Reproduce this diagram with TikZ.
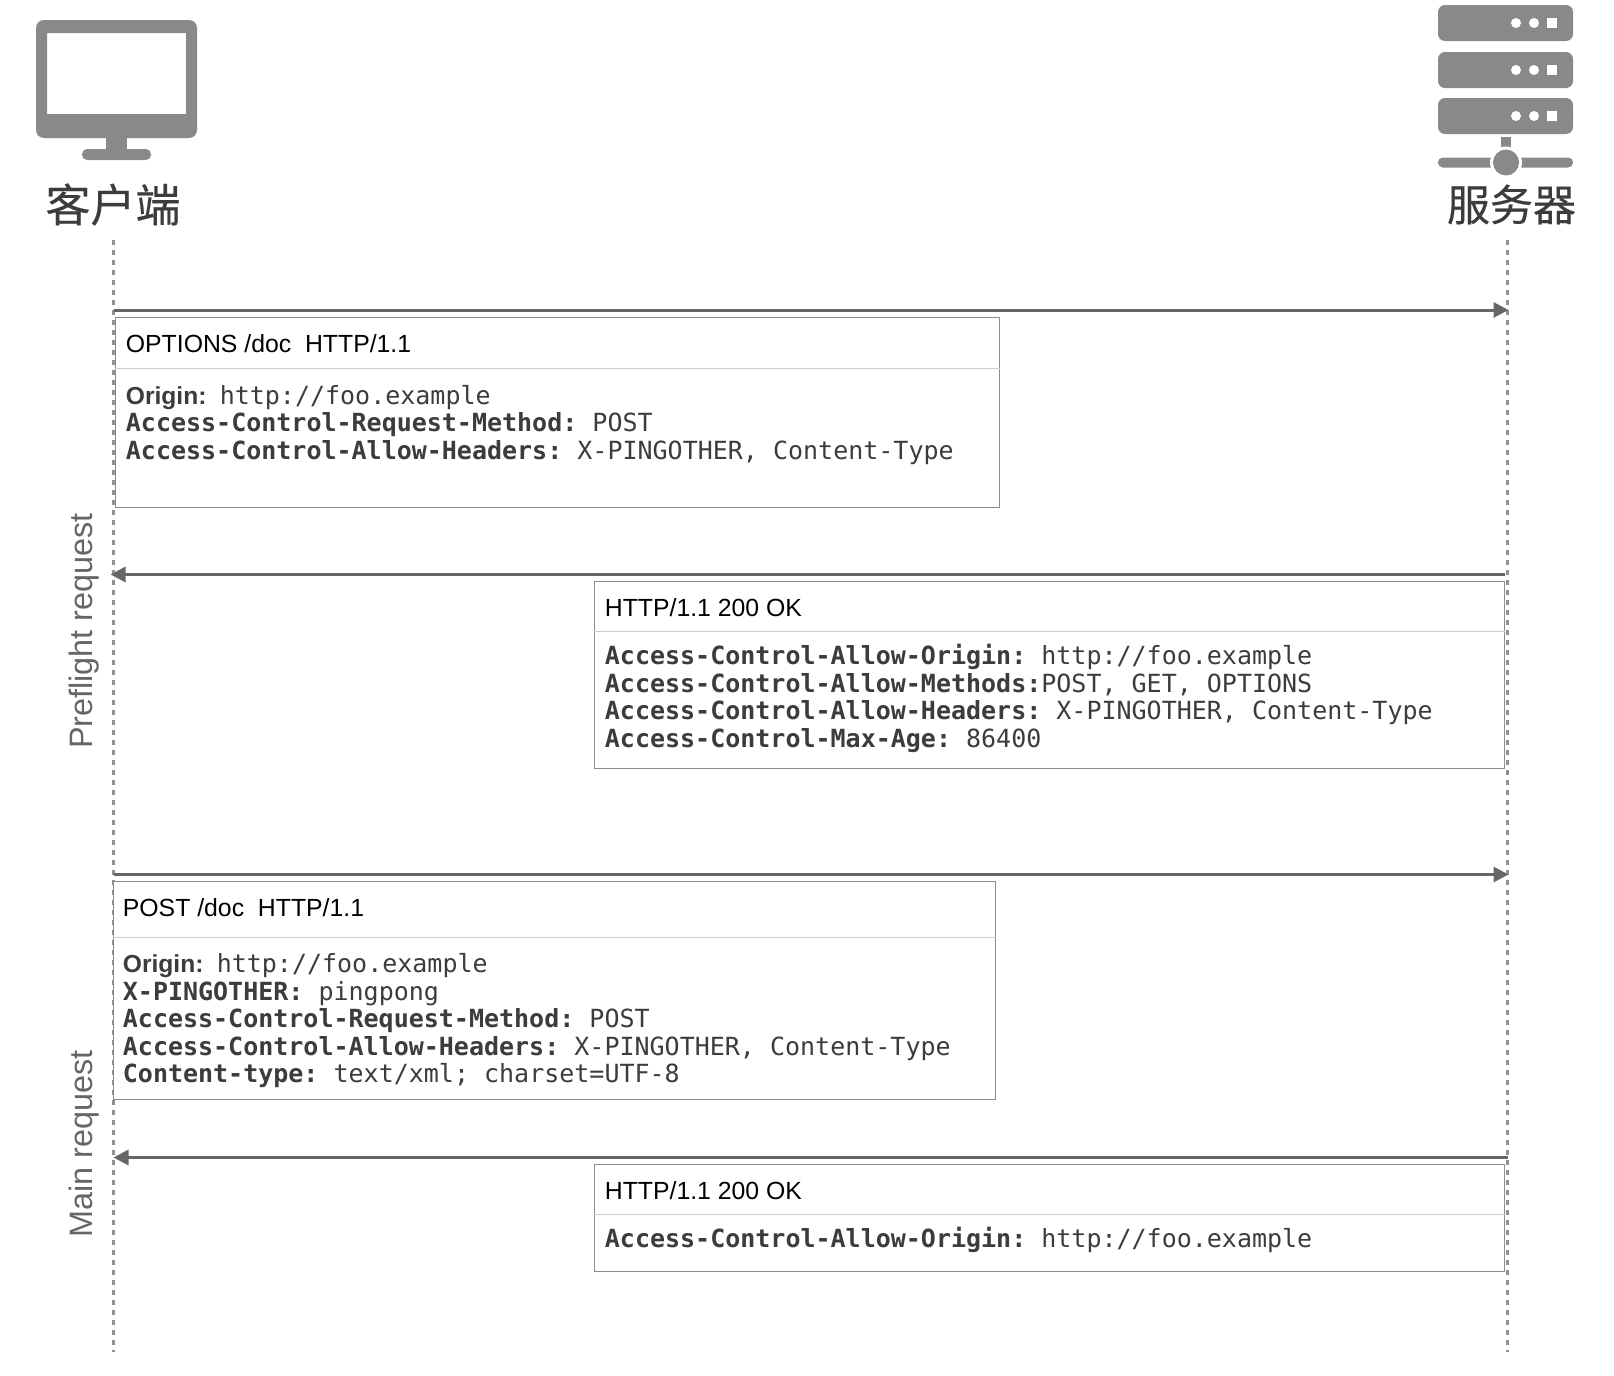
\documentclass[tikz,border=0pt]{standalone}
\usepackage{fontspec}
\setmainfont{Liberation Sans}
\setmonofont{DejaVu Sans Mono}
\newfontfamily\cjkfont[FakeBold=0.4]{Noto Sans CJK SC}
\usetikzlibrary{arrows.meta,positioning,calc}
\definecolor{icongray}{RGB}{137,137,137}
\definecolor{linegray}{RGB}{102,102,102}
\definecolor{dotgray}{RGB}{145,145,145}
\definecolor{boxgray}{RGB}{140,140,140}
\definecolor{rulegray}{RGB}{205,205,205}
\definecolor{textgray}{RGB}{60,60,60}
\newcommand{\hdr}[1]{\textbf{\ttfamily #1}}
\newcommand{\orig}{\textbf{\rmfamily\fontsize{12.3pt}{13.75pt}\selectfont Origin:}\hspace{-0.9pt}}

\begin{document}
\begin{tikzpicture}[x=0.5pt,y=-0.5pt,
icon/.style={fill=icongray, draw=none},
hostlabel/.style={font=\cjkfont\fontsize{22.5pt}{26pt}\selectfont, text=textgray, inner sep=0pt},
side/.style={font=\fontsize{16.2pt}{19pt}\selectfont, text=linegray, rotate=90, inner sep=0pt},
life/.style={draw=dotgray, line width=1.25pt, dash pattern=on 2.5pt off 2.5pt},
msg/.style={-{Triangle[length=7.5pt,width=7.5pt]}, draw=linegray, fill=linegray, line width=1.5pt},
box/.style={draw=boxgray, line width=0.5pt, fill=white, anchor=north west, inner sep=0pt},
sep/.style={draw=rulegray, line width=0.5pt},
title/.style={font=\fontsize{12.4pt}{15pt}\selectfont, anchor=base west, inner sep=0pt},
body/.style={font=\ttfamily\fontsize{12.5pt}{13.75pt}\selectfont, text=textgray, align=left, anchor=north west, inner sep=0pt}
]
\useasboundingbox (0,0) rectangle (1614,1376);

% client icon
\fill[icon, rounded corners=4pt, even odd rule] (36,20) rectangle (197,138) [sharp corners] (47,33) rectangle (186,114);
\fill[icon] (106,138) rectangle (127,150);
\fill[icon, rounded corners=2.6pt] (82,149) rectangle (151,160);
\node[hostlabel] (client) at (113,204.5) {客户端};

% server icon
\foreach \y in {5,52,98} {
  \fill[icon, rounded corners=3.5pt] (1438,\y) rectangle (1573,\y+36);
  \fill[white] (1516,\y+18) circle (5);
  \fill[white] (1534,\y+18) circle (5);
  \fill[white] (1547,\y+13) rectangle (1557,\y+23);
}
\fill[icon] (1501,137) rectangle (1511,147);
\fill[icon, rounded corners=2.4pt] (1438,157.5) rectangle (1573,167.5);
\fill[white] (1506,162.5) circle (16);
\fill[icon] (1506,162.5) circle (13);
\node[hostlabel, font=\cjkfont\fontsize{21.5pt}{26pt}\selectfont] (server) at (1511.5,204.5) {服务器};

% life lines
\coordinate (c0) at (113.5,240);
\coordinate (c1) at (113.5,1352);
\coordinate (s0) at (1507.5,240);
\coordinate (s1) at (1507.5,1352);
\draw[life] (c0) -- (c1);
\draw[life] (s0) -- (s1);

% messages
\coordinate (m1a) at (113.5,310);
\coordinate (m1b) at (1508.5,310);
\coordinate (m2a) at (1505,574.5);
\coordinate (m2b) at (110.5,574.5);
\coordinate (m3a) at (113.5,874.5);
\coordinate (m3b) at (1508.5,874.5);
\coordinate (m4a) at (1508,1157.5);
\coordinate (m4b) at (113.5,1157.5);
\draw[msg] (m1a) -- (m1b);
\draw[msg] (m2a) -- (m2b);
\draw[msg] (m3a) -- (m3b);
\draw[msg] (m4a) -- (m4b);

% boxes
\node[box, minimum width=442pt, minimum height=95.25pt] (b1) at (114.5,316.5) {};
\node[box, minimum width=455pt, minimum height=93.5pt] (b2) at (593.5,580.5) {};
\node[box, minimum width=441pt, minimum height=109.25pt] (b3) at (112.5,880.5) {};
\node[box, minimum width=455pt, minimum height=53.5pt] (b4) at (593.5,1164) {};

\draw[sep] (b1.west |- 0,368) -- (b1.east |- 0,368);
\draw[sep] (b2.west |- 0,631) -- (b2.east |- 0,631);
\draw[sep] (b3.west |- 0,937) -- (b3.east |- 0,937);
\draw[sep] (b4.west |- 0,1214) -- (b4.east |- 0,1214);

\node[title] (t1) at (125.5,352) {OPTIONS /doc\ \ HTTP/1.1};
\node[title] (t2) at (604.5,616) {HTTP/1.1 200 OK};
\node[title] (t3) at (122.5,916) {POST /doc\ \ HTTP/1.1};
\node[title] (t4) at (604.5,1199) {HTTP/1.1 200 OK};

\node[body] (l1) at (125.5,384.5) {\orig{} http://foo.example\\
\hdr{Access-Control-Request-Method:} POST\\
\hdr{Access-Control-Allow-Headers:} X-PINGOTHER, Content-Type};
\node[body] (l2) at (604.5,644) {\hdr{Access-Control-Allow-Origin:} http://foo.example\\
\hdr{Access-Control-Allow-Methods:}POST, GET, OPTIONS\\
\hdr{Access-Control-Allow-Headers:} X-PINGOTHER, Content-Type\\
\hdr{Access-Control-Max-Age:} 86400};
\node[body] (l3) at (122.5,953) {\orig{} http://foo.example\\
\hdr{X-PINGOTHER:} pingpong\\
\hdr{Access-Control-Request-Method:} POST\\
\hdr{Access-Control-Allow-Headers:} X-PINGOTHER, Content-Type\\
\hdr{Content-type:} text/xml; charset=UTF-8};
\node[body] (l4) at (604.5,1227) {\hdr{Access-Control-Allow-Origin:} http://foo.example};

\node[side] (pre) at (84,631) {Preflight request};
\node[side] (main) at (84,1144) {Main request};
\end{tikzpicture}
\end{document}
